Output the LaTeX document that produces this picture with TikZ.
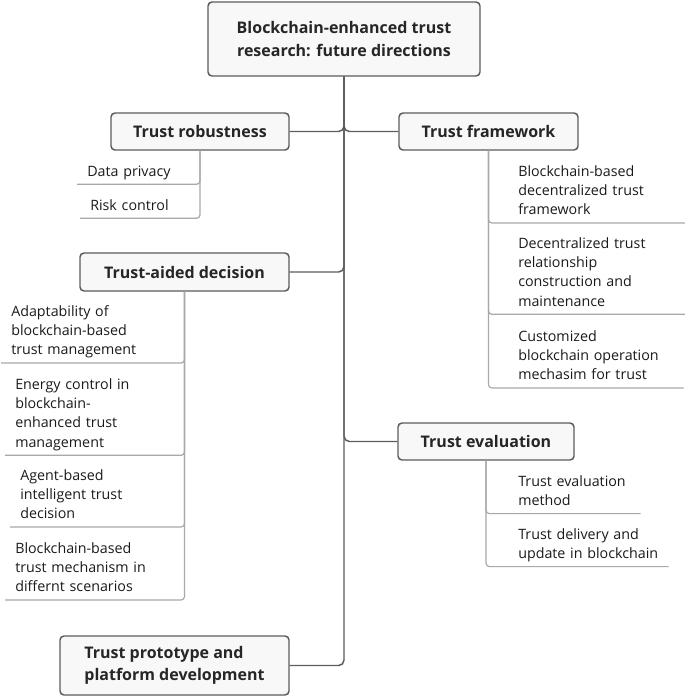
\documentclass[tikz,border=0pt]{standalone}
\usepackage{fontspec}
\setmainfont{Open Sans}
\definecolor{boxdraw}{HTML}{5C5C5C}
\definecolor{boxfill}{HTML}{F8F8F8}
\definecolor{trunk}{HTML}{5C5C5C}
\definecolor{twigline}{HTML}{A8A8A8}
\definecolor{titletext}{HTML}{262626}
\definecolor{leaftext}{HTML}{1A1A1A}
\tikzset{
  topic/.style={draw=boxdraw,fill=boxfill,line width=1.1pt,rounded corners=3pt,
    text=titletext,font=\fontsize{12}{17}\selectfont\bfseries,align=center,inner sep=0},
  leaf/.style={anchor=base west,align=left,text width=112pt,inner xsep=7.5pt,inner ysep=1.65pt,
    text=leaftext,font=\fontsize{10.7}{14.5}\selectfont,execute at end node=\strut},
  branch/.style={draw=trunk,line width=1.1pt,rounded corners=4pt},
  twig/.style={draw=twigline,line width=0.9pt,rounded corners=2.5pt}
}

\begin{document}
\begin{tikzpicture}[x=0.75pt,y=-0.75pt]
  \useasboundingbox (0,0) rectangle (685,697);

  \node[topic,minimum width=204pt,minimum height=55.5pt] (root) at (344,39)
    {Blockchain-enhanced trust\\research: future directions};
  \node[topic,minimum width=133.5pt,minimum height=27.75pt] (robust) at (200,131.5) {Trust robustness};
  \node[topic,minimum width=134.25pt,minimum height=27.75pt] (frame) at (488.5,131.5) {Trust framework};
  \node[topic,minimum width=156.75pt,minimum height=28.5pt] (aided) at (184.5,272) {Trust-aided decision};
  \node[topic,minimum width=132pt,minimum height=27.75pt] (eval) at (486,441.5) {Trust evaluation};
  \node[topic,minimum width=171.75pt,minimum height=44.25pt,align=left] (proto) at (174.5,665.5)
    {Trust prototype and\\platform development};

  \draw[branch] (root.south) |- (robust.east);
  \draw[branch] (root.south) |- (frame.west);
  \draw[branch] (root.south) |- (aided.east);
  \draw[branch] (root.south) |- (eval.west);
  \draw[branch] (root.south) |- (proto.east);

  \node[leaf,text width=76pt] (privacy) at (77,176) {Data privacy};
  \node[leaf,text width=76pt] (risk) at (80,210) {Risk control};
  \draw[twig] (robust.south) |- (privacy.south west);
  \draw[twig] (robust.south) |- (risk.south west);

  \node[leaf,text width=117.75pt] (fw1) at (508,176) {Blockchain-based\\decentralized trust\\framework};
  \node[leaf,text width=117.75pt] (fw2) at (508,248) {Decentralized trust\\relationship\\construction and\\maintenance};
  \node[leaf,text width=116.25pt] (fw3) at (508,341) {Customized\\blockchain operation\\mechasim for trust};
  \foreach \c in {fw1,fw2,fw3}
    \draw[twig] (frame.south) |- (\c.south east);

  \node[leaf] (ad1) at (1,316) {Adaptability of\\blockchain-based\\trust management};
  \node[leaf] (ad2) at (5,389) {Energy control in\\blockchain-\\enhanced trust\\management};
  \node[leaf] (ad3) at (10,480) {Agent-based\\intelligent trust\\decision};
  \node[leaf] (ad4) at (5,553) {Blockchain-based\\trust mechanism in\\differnt scenarios};
  \foreach \c in {ad1,ad2,ad3,ad4}
    \draw[twig] (aided.south) |- (\c.south west);

  \node[leaf,text width=84pt] (ev1) at (508,486) {Trust evaluation\\method};
  \node[leaf,text width=105pt] (ev2) at (508,539) {Trust delivery and\\update in blockchain};
  \draw[twig] (eval.south) |- (ev1.south east);
  \draw[twig] (eval.south) |- (ev2.south east);
\end{tikzpicture}
\end{document}
